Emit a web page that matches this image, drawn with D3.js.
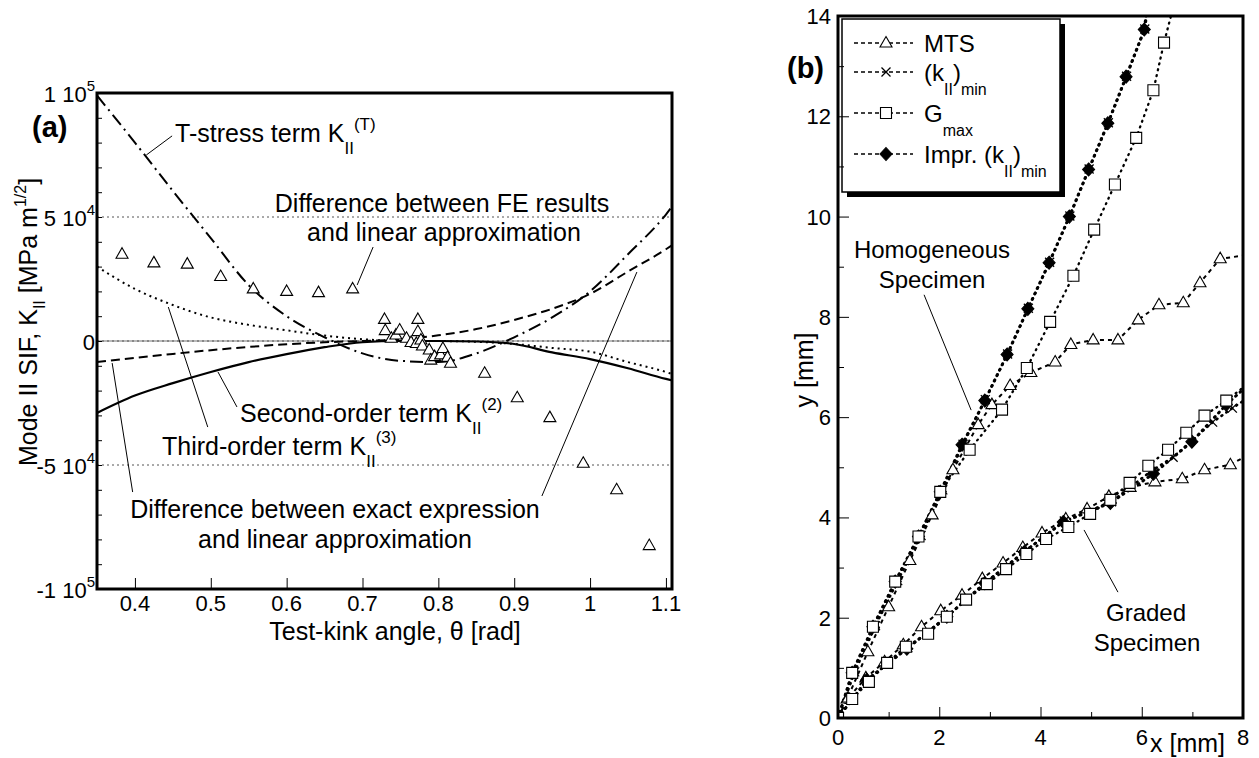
<!DOCTYPE html>
<html>
<head>
<meta charset="utf-8">
<script src="https://cdn.jsdelivr.net/npm/d3@7"></script>
<style>
  body { margin: 0; background: #fff; }
  svg { display: block; font-family: "Liberation Sans", Arial, Helvetica, sans-serif; }
  text { white-space: pre; fill: #000; }
</style>
</head>
<body>
<div id="chart"></div>
<script>
// ---------- panel (a): SIF terms vs test-kink angle ----------
const thetaGrid    = [0.35, 0.40, 0.45, 0.50, 0.55, 0.60, 0.65, 0.70, 0.75, 0.80, 0.85, 0.90, 0.95, 1.00, 1.05, 1.10, 1.11];
const tStressTerm  = [99000, 80000, 60500, 41500, 22500, 10000, 1500, -5000, -8000, -8500, -5000, 1500, 9500, 20000, 35000, 51000, 55000];
const secondOrder  = [-29000, -22000, -17000, -12500, -8500, -5300, -2500, -500, 0, 0, -200, -1200, -4600, -7300, -11000, -15300, -16000];
const thirdOrder   = [30000, 21000, 14500, 9500, 6500, 4300, 2200, 700, 100, 0, -300, -1200, -2800, -4300, -8500, -12500, -13500];
const exactMinusLin = [-8500, -6800, -5200, -3700, -2400, -1300, -500, 0, 700, 2300, 4800, 8500, 13000, 19000, 28000, 37000, 39000];

// FE results minus linear approximation (triangles)
const feTheta = [0.383, 0.425, 0.469, 0.513, 0.556, 0.600, 0.642, 0.687,
  0.729, 0.730, 0.738, 0.744, 0.749, 0.758, 0.764, 0.771, 0.773, 0.773, 0.777, 0.779,
  0.788, 0.790, 0.795, 0.803, 0.806, 0.812, 0.816,
  0.861, 0.904, 0.947, 0.991, 1.035, 1.078];
const feK = [35000, 31500, 31000, 26000, 21000, 20000, 19500, 21000,
  8700, 4200, 1100, 2400, 4400, 1100, -600, -1000, 8700, 3800, 400, -2000,
  -3600, -7700, -6300, -5600, -3000, -6600, -9000,
  -13000, -22900, -30900, -49300, -60000, -82500];

const xTicksA = [0.4, 0.5, 0.6, 0.7, 0.8, 0.9, 1.0, 1.1];
const xTickLabelsA = ['0.4', '0.5', '0.6', '0.7', '0.8', '0.9', '1', '1.1'];
const yTicksA = [100000, 50000, 0, -50000, -100000];
const yTickMantA = ['1 10', '5 10', '0', '-5 10', '-1 10'];
const yTickExpA = ['5', '4', '', '4', '5'];
const refLinesA = [100000, 50000, -50000, -100000];

// ---------- panel (b): crack paths ----------
const homMtsX = [0, 0.18, 0.59, 1.00, 1.42, 1.86, 2.27, 2.77, 3.04, 3.40, 3.81, 4.29, 4.60, 5.04, 5.53, 5.93, 6.34, 6.82, 7.15, 7.55, 8.0];
const homMtsY = [0, 0.38, 1.32, 2.22, 3.14, 4.05, 4.95, 5.85, 6.25, 6.63, 6.89, 7.10, 7.45, 7.54, 7.54, 7.94, 8.24, 8.28, 8.68, 9.16, 9.22];
const homKminX = [0, 0.33, 0.74, 1.18, 1.64, 2.07, 2.47, 2.91, 3.35, 3.76, 4.18, 4.58, 4.96, 5.34, 5.70, 6.06, 6.14];
const homKminY = [0, 0.92, 1.84, 2.74, 3.64, 4.55, 5.46, 6.35, 7.26, 8.17, 9.09, 10.01, 10.95, 11.87, 12.80, 13.74, 14.3];
const homGmaxX = [0, 0.28, 0.69, 1.13, 1.59, 2.02, 2.60, 3.24, 3.73, 4.19, 4.65, 5.06, 5.47, 5.89, 6.23, 6.44, 6.68];
const homGmaxY = [0, 0.90, 1.82, 2.72, 3.62, 4.51, 5.35, 6.15, 6.98, 7.90, 8.82, 9.74, 10.64, 11.57, 12.52, 13.47, 14.4];
const homImprX = [0, 0.28, 0.69, 1.13, 1.59, 2.02, 2.45, 2.90, 3.34, 3.75, 4.17, 4.57, 4.95, 5.33, 5.69, 6.05, 6.12];
const homImprY = [0, 0.90, 1.82, 2.72, 3.62, 4.51, 5.45, 6.33, 7.25, 8.16, 9.08, 10.00, 10.94, 11.86, 12.79, 13.73, 14.3];

const gradMtsX = [0, 0.20, 0.55, 0.92, 1.29, 1.65, 2.03, 2.45, 2.85, 3.26, 3.65, 4.03, 4.50, 4.92, 5.35, 5.77, 6.26, 6.80, 7.24, 7.75, 8.0];
const gradMtsY = [0, 0.40, 0.80, 1.12, 1.46, 1.82, 2.14, 2.45, 2.78, 3.09, 3.40, 3.69, 3.97, 4.17, 4.42, 4.60, 4.71, 4.77, 4.95, 5.05, 5.19];
const gradKminX = [0, 0.60, 1.38, 2.17, 2.93, 3.70, 4.47, 5.40, 6.18, 6.62, 7.40, 7.79, 8.0];
const gradKminY = [0, 0.78, 1.40, 2.04, 2.71, 3.33, 3.93, 4.31, 4.92, 5.20, 5.90, 6.18, 6.32];
const gradGmaxX = [0, 0.28, 0.61, 0.97, 1.34, 1.78, 2.15, 2.53, 2.94, 3.32, 3.72, 4.11, 4.55, 4.98, 5.38, 5.76, 6.13, 6.52, 6.88, 7.24, 7.67, 8.0];
const gradGmaxY = [0, 0.38, 0.72, 1.10, 1.42, 1.68, 2.02, 2.36, 2.67, 2.97, 3.27, 3.57, 3.81, 4.07, 4.35, 4.69, 5.03, 5.35, 5.69, 6.03, 6.33, 6.59];
const gradImprX = [0, 0.57, 1.36, 2.15, 2.90, 3.68, 4.45, 5.38, 6.23, 6.99, 7.67, 8.0];
const gradImprY = [0, 0.76, 1.38, 2.02, 2.69, 3.31, 3.91, 4.29, 4.87, 5.51, 6.25, 6.55];

const xTicksB = [0, 2, 4, 6, 8];
const yTicksB = [0, 2, 4, 6, 8, 10, 12, 14];

const legendItems = [
    { sym: 'tri', parts: [{ t: 'MTS' }] },
    { sym: 'x',   parts: [{ t: '(k' }, { t: 'II', sub: true }, { t: ')' }, { t: 'min', sub: true }] },
    { sym: 'sq',  parts: [{ t: 'G' }, { t: 'max', sub: true }] },
    { sym: 'dia', parts: [{ t: 'Impr. (k' }, { t: 'II', sub: true }, { t: ')' }, { t: 'min', sub: true }] }
];

// ---------- helpers ----------
const svg = d3.select('#chart').append('svg')
    .attr('width', 1259)
    .attr('height', 758);
const defs = svg.append('defs');

const MARKERS = {
    tri: 'M0,-6.5L6,4L-6,4Z',
    sq:  'M-5.5,-5.5H5.5V5.5H-5.5Z',
    dia: 'M0,-6.5L6,0L0,6.5L-6,0Z',
    x:   'M-4.5,-4.5L4.5,4.5M-4.5,4.5L4.5,-4.5'
};
const MARKER_FILL = { tri: '#fff', sq: '#fff', dia: '#000', x: 'none' };

// text with sub/superscript parts
function richText(parent, parts, o) {
    const t = parent.append('text')
        .attr('x', o.x)
        .attr('y', o.y)
        .attr('font-size', o.size)
        .attr('font-weight', o.weight || 'normal')
        .attr('text-anchor', o.anchor || 'start');
    if (o.rotate) t.attr('transform', `rotate(-90,${o.x},${o.y})`);
    let cur = 0;
    parts.forEach(p => {
        const target = p.sub ? (o.subDy || 12) : p.sup ? (o.supDy || -12) : 0;
        t.append('tspan')
            .attr('dy', target - cur)
            .attr('font-size', (p.sub || p.sup) ? (o.small || 17) : o.size)
            .text(p.t);
        cur = target;
    });
    return t;
}

function drawMarker(g, sym, x, y) {
    g.append('path')
        .attr('transform', `translate(${x},${y})`)
        .attr('d', MARKERS[sym])
        .attr('fill', MARKER_FILL[sym])
        .attr('stroke', '#000')
        .attr('stroke-width', sym === 'x' ? 1.3 : 1.1);
}

// ============ PANEL (a) ============
const xA = d3.scaleLinear().domain([0.35, 1.108]).range([97, 672]);
const yA = d3.scaleLinear().domain([-100000, 100000]).range([589, 93]);
const gA = svg.append('g');

defs.append('clipPath').attr('id', 'clipA')
    .append('rect')
    .attr('x', xA.range()[0]).attr('y', yA.range()[1])
    .attr('width', xA.range()[1] - xA.range()[0])
    .attr('height', yA.range()[0] - yA.range()[1]);

const plotA = gA.append('g').attr('clip-path', 'url(#clipA)');

// reference lines
plotA.append('line')
    .attr('x1', xA.range()[0]).attr('x2', xA.range()[1])
    .attr('y1', yA(0)).attr('y2', yA(0))
    .attr('stroke', '#777').attr('stroke-width', 1.2);
plotA.selectAll('.ref')
    .data(refLinesA.concat([0]))
    .enter().append('line')
    .attr('class', 'ref')
    .attr('x1', xA.range()[0]).attr('x2', xA.range()[1])
    .attr('y1', d => yA(d)).attr('y2', d => yA(d))
    .attr('stroke', '#555').attr('stroke-width', 1)
    .attr('stroke-dasharray', '2,3');

const lineA = d3.line()
    .x(d => xA(d[0]))
    .y(d => yA(d[1]))
    .curve(d3.curveMonotoneX);

const curvesA = [
    { values: tStressTerm,   dash: '13,5,2,5', width: 2 },
    { values: secondOrder,   dash: null,       width: 2.2 },
    { values: thirdOrder,    dash: '2,4',      width: 2 },
    { values: exactMinusLin, dash: '9,5',      width: 2 }
];
curvesA.forEach(c => {
    plotA.append('path')
        .attr('d', lineA(thetaGrid.map((t, i) => [t, c.values[i]])))
        .attr('fill', 'none')
        .attr('stroke', '#000')
        .attr('stroke-width', c.width)
        .attr('stroke-dasharray', c.dash);
});

// FE triangles
feTheta.forEach((t, i) => drawMarker(plotA, 'tri', xA(t), yA(feK[i])));

// leader lines (data coordinates)
const leadersA = [
    [[0.449, 82700], [0.415, 75000]],
    [[0.714, 37900], [0.693, 22600]],
    [[0.5345, -26600], [0.5095, -12500]],
    [[0.496, -34700], [0.444, 13700]],
    [[0.397, -60900], [0.370, -8900]],
    [[0.9365, -62500], [1.0617, 27800]]
];
leadersA.forEach(l => {
    gA.append('line')
        .attr('x1', xA(l[0][0])).attr('y1', yA(l[0][1]))
        .attr('x2', xA(l[1][0])).attr('y2', yA(l[1][1]))
        .attr('stroke', '#000').attr('stroke-width', 1);
});

// annotations
richText(gA, [{ t: 'T-stress term K' }, { t: 'II', sub: true }, { t: '(T)', sup: true }],
    { x: 175, y: 142, size: 25 });
gA.append('text').attr('x', 442).attr('y', 212).attr('font-size', 25)
    .attr('text-anchor', 'middle').text('Difference between FE results');
gA.append('text').attr('x', 444).attr('y', 241).attr('font-size', 25)
    .attr('text-anchor', 'middle').text('and linear approximation');
richText(gA, [{ t: 'Second-order term K' }, { t: 'II', sub: true }, { t: '(2)', sup: true }],
    { x: 240, y: 422, size: 25 });
richText(gA, [{ t: 'Third-order term K' }, { t: 'II', sub: true }, { t: '(3)', sup: true }],
    { x: 162, y: 455, size: 25 });
gA.append('text').attr('x', 335).attr('y', 518).attr('font-size', 25)
    .attr('text-anchor', 'middle').text('Difference between exact expression');
gA.append('text').attr('x', 335).attr('y', 548).attr('font-size', 25)
    .attr('text-anchor', 'middle').text('and linear approximation');

// axes ticks (inside)
gA.append('g')
    .attr('transform', `translate(0,${yA.range()[0]})`)
    .call(d3.axisBottom(xA).tickValues(xTicksA).tickSize(-11).tickFormat(''))
    .call(g => g.select('.domain').remove());
gA.append('g')
    .attr('transform', `translate(${xA.range()[0]},0)`)
    .call(d3.axisLeft(yA).tickValues(yA.ticks(20)).tickSize(-5).tickFormat(''))
    .call(g => g.select('.domain').remove());
gA.selectAll('.tick line').attr('stroke-width', 1);

// tick labels
xTicksA.forEach((v, i) => {
    gA.append('text')
        .attr('x', xA(v)).attr('y', 611)
        .attr('font-size', 22).attr('text-anchor', 'middle')
        .text(xTickLabelsA[i]);
});
yTicksA.forEach((v, i) => {
    const parts = [{ t: yTickMantA[i] }];
    if (yTickExpA[i]) parts.push({ t: yTickExpA[i], sup: true });
    richText(gA, parts, { x: 95, y: yA(v) + 9, size: 22, anchor: 'end', small: 15, supDy: -11 });
});

// axis titles
gA.append('text').attr('x', 395).attr('y', 640).attr('font-size', 25)
    .attr('text-anchor', 'middle').text('Test-kink angle, \u03b8 [rad]');
richText(gA, [{ t: 'Mode II SIF, K' }, { t: 'II', sub: true }, { t: ' [MPa m' }, { t: '1/2', sup: true }, { t: ']' }],
    { x: 37, y: 322, size: 25, anchor: 'middle', rotate: true, small: 16, subDy: 8, supDy: -11 });

gA.append('text').attr('x', 32).attr('y', 137).attr('font-size', 29)
    .attr('font-weight', 'bold').text('(a)');

// frame
gA.append('rect')
    .attr('x', xA.range()[0]).attr('y', yA.range()[1])
    .attr('width', xA.range()[1] - xA.range()[0])
    .attr('height', yA.range()[0] - yA.range()[1])
    .attr('fill', 'none').attr('stroke', '#000').attr('stroke-width', 3);

// ============ PANEL (b) ============
const xB = d3.scaleLinear().domain([0, 8]).range([838, 1243]);
const yB = d3.scaleLinear().domain([0, 14]).range([718, 16]);
const gB = svg.append('g');

defs.append('clipPath').attr('id', 'clipB')
    .append('rect')
    .attr('x', xB.range()[0]).attr('y', yB.range()[1])
    .attr('width', xB.range()[1] - xB.range()[0])
    .attr('height', yB.range()[0] - yB.range()[1]);

const plotB = gB.append('g').attr('clip-path', 'url(#clipB)');

const seriesB = [
    { xs: homMtsX,   ys: homMtsY,   sym: 'tri', dash: '4,4', width: 2,   cap: 'butt' },
    { xs: gradMtsX,  ys: gradMtsY,  sym: 'tri', dash: '4,4', width: 2,   cap: 'butt' },
    { xs: homKminX,  ys: homKminY,  sym: 'x',   dash: '1,5', width: 2.6, cap: 'round' },
    { xs: gradKminX, ys: gradKminY, sym: 'x',   dash: '1,5', width: 2.6, cap: 'round' },
    { xs: homImprX,  ys: homImprY,  sym: 'dia', dash: '1,5', width: 3,   cap: 'round' },
    { xs: gradImprX, ys: gradImprY, sym: 'dia', dash: '1,5', width: 3,   cap: 'round' },
    { xs: homGmaxX,  ys: homGmaxY,  sym: 'sq',  dash: '1,5', width: 2.3, cap: 'round' },
    { xs: gradGmaxX, ys: gradGmaxY, sym: 'sq',  dash: '1,5', width: 2.3, cap: 'round' }
];

const lineB = d3.line()
    .x(d => xB(d[0]))
    .y(d => yB(d[1]));

seriesB.forEach(s => {
    plotB.append('path')
        .attr('d', lineB(s.xs.map((x, i) => [x, s.ys[i]])))
        .attr('fill', 'none')
        .attr('stroke', '#000')
        .attr('stroke-width', s.width)
        .attr('stroke-linecap', s.cap)
        .attr('stroke-dasharray', s.dash);
});
// markers: the last point of every series is only the line end at the frame
seriesB.forEach(s => {
    s.xs.slice(0, -1).forEach((x, i) => drawMarker(plotB, s.sym, xB(x), yB(s.ys[i])));
});

// leader lines
const leadersB = [
    [[1.70, 8.44], [2.63, 6.14]],
    [[5.53, 2.51], [4.86, 3.75]]
];
leadersB.forEach(l => {
    gB.append('line')
        .attr('x1', xB(l[0][0])).attr('y1', yB(l[0][1]))
        .attr('x2', xB(l[1][0])).attr('y2', yB(l[1][1]))
        .attr('stroke', '#000').attr('stroke-width', 1);
});
gB.append('text').attr('x', 932).attr('y', 258).attr('font-size', 24)
    .attr('text-anchor', 'middle').text('Homogeneous');
gB.append('text').attr('x', 932).attr('y', 288).attr('font-size', 24)
    .attr('text-anchor', 'middle').text('Specimen');
gB.append('text').attr('x', 1146).attr('y', 621).attr('font-size', 24)
    .attr('text-anchor', 'middle').text('Graded');
gB.append('text').attr('x', 1147).attr('y', 651).attr('font-size', 24)
    .attr('text-anchor', 'middle').text('Specimen');

// legend with drop shadow
const lg = gB.append('g');
lg.append('rect').attr('x', 847).attr('y', 24).attr('width', 218).attr('height', 173).attr('fill', '#000');
lg.append('rect').attr('x', 842).attr('y', 19).attr('width', 218).attr('height', 173)
    .attr('fill', '#fff').attr('stroke', '#000').attr('stroke-width', 1.5);
const legendRowY = [43, 72, 113, 154];
legendItems.forEach((it, i) => {
    const y = legendRowY[i];
    lg.append('line')
        .attr('x1', 854).attr('x2', 913).attr('y1', y).attr('y2', y)
        .attr('stroke', '#000').attr('stroke-width', 1.5).attr('stroke-dasharray', '4,3');
    drawMarker(lg, it.sym, 886, y);
    richText(lg, it.parts, { x: 924, y: y + 9, size: 24, small: 16, subDy: 14 });
});

// ticks (inside)
gB.append('g')
    .attr('transform', `translate(0,${yB.range()[0]})`)
    .call(d3.axisBottom(xB).tickValues(xB.ticks(8)).tickSize(-6).tickFormat(''))
    .call(g => g.select('.domain').remove())
    .call(g => g.selectAll('.tick').filter(d => d % 2 === 0).select('line').attr('y2', -11));
gB.append('g')
    .attr('transform', `translate(${xB.range()[0]},0)`)
    .call(d3.axisLeft(yB).tickValues(yB.ticks(14)).tickSize(-6).tickFormat(''))
    .call(g => g.select('.domain').remove())
    .call(g => g.selectAll('.tick').filter(d => d % 2 === 0).select('line').attr('x2', 11));

xTicksB.forEach(v => {
    gB.append('text').attr('x', xB(v)).attr('y', 745)
        .attr('font-size', 22).attr('text-anchor', 'middle').text(v);
});
yTicksB.forEach(v => {
    gB.append('text').attr('x', 831).attr('y', yB(v) + 8)
        .attr('font-size', 22).attr('text-anchor', 'end').text(v);
});
gB.append('text').attr('x', 1150).attr('y', 752).attr('font-size', 25).text('x [mm]');
gB.append('text').attr('x', 813).attr('y', 370).attr('font-size', 25)
    .attr('text-anchor', 'middle').attr('transform', 'rotate(-90,813,370)').text('y [mm]');
gB.append('text').attr('x', 787).attr('y', 78).attr('font-size', 29)
    .attr('font-weight', 'bold').text('(b)');

gB.append('rect')
    .attr('x', xB.range()[0]).attr('y', yB.range()[1])
    .attr('width', xB.range()[1] - xB.range()[0])
    .attr('height', yB.range()[0] - yB.range()[1])
    .attr('fill', 'none').attr('stroke', '#000').attr('stroke-width', 3);
</script>
</body>
</html>
